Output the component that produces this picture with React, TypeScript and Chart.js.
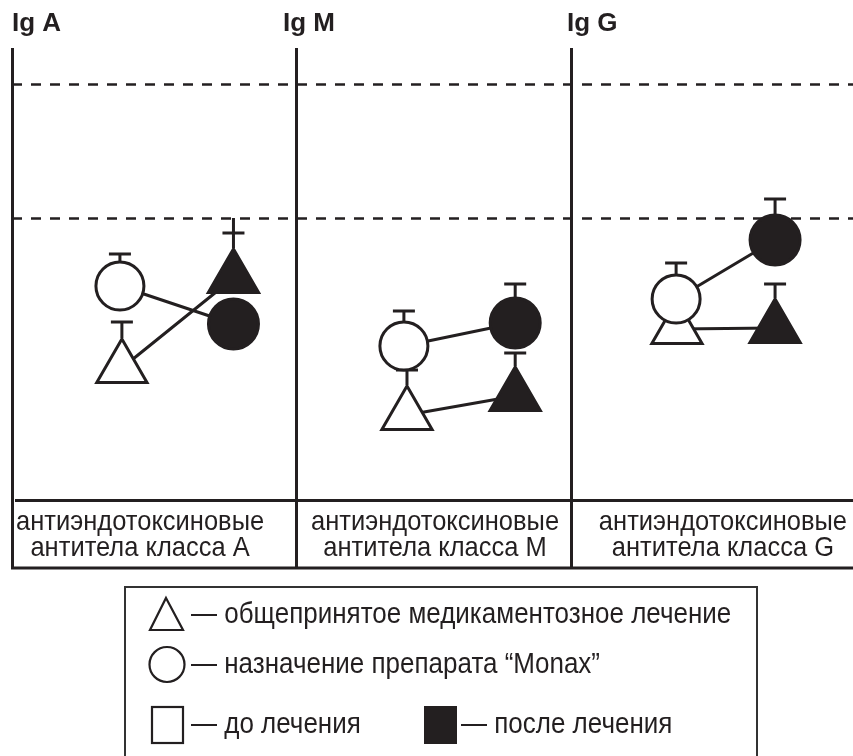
import React, { useEffect, useRef } from "react";
import { Chart, registerables } from "chart.js";

Chart.register(...registerables);

// ---------- data ----------
const panelTitles = ["Ig A", "Ig M", "Ig G"];
const panelStarts = [0, 1.013, 1.994];
const titleShift = [0, -13, -4];
const labelCentersX = [0.457, 1.509, 2.536];
const panelLabels = [
  ["антиэндотоксиновые", "антитела класса A"],
  ["антиэндотоксиновые", "антитела класса M"],
  ["антиэндотоксиновые", "антитела класса G"],
];
const referenceLevels = [104, 70.5];

const xBeforeCircle = [0.385, 1.398, 2.369];
const xBeforeTriangle = [0.392, 1.409, 2.372];
const xAfter = [0.79, 1.795, 2.722];

const circleBefore = [53.5, 38.5, 50.25];
const circleBeforeErr = [61.5, 47.25, 59.25];
const triangleBefore = [33, 21.25, 42.75];
const triangleBeforeErr = [44.5, 32.5, null];
const circleAfter = [44, 44.25, 65];
const circleAfterErr = [null, 54, 75.25];
const triangleAfter = [55.5, 26, 43];
const triangleAfterErr = [66.75, 36.75, 54];
const triangleAfterStem = [70.5, null, null];

const legendTexts = [
  "— общепринятое медикаментозное лечение",
  "— назначение препарата “Monax”",
  "— до лечения",
  "— после лечения",
];

const INK = "#231f20";
const FONT = "'Liberation Sans', Arial, Helvetica, sans-serif";

function pts(xs: number[], ys: (number | null)[]) {
  return xs.map((x, i) => ({ x, y: ys[i] }));
}
function links(x0: number[], y0: number[], x1: number[], y1: number[]) {
  const out: any[] = [];
  x0.forEach((x, i) => {
    out.push({ x, y: y0[i] });
    out.push({ x: x1[i], y: y1[i] });
    out.push({ x: x1[i], y: null });
  });
  return out;
}

function stretchedText(ctx: CanvasRenderingContext2D, text: string, x: number, y: number, sy: number) {
  ctx.save();
  ctx.translate(x, y);
  ctx.scale(1, sy);
  ctx.fillText(text, 0, 0);
  ctx.restore();
}

const decorPlugin = {
  id: "decor",
  beforeDatasetsDraw(chart: any) {
    const { ctx, chartArea, scales } = chart;
    const xs = scales.x;
    const ys = scales.y;
    const tableBottom = chartArea.bottom + 68;
    ctx.save();
    ctx.strokeStyle = INK;
    // dashed reference levels
    ctx.lineWidth = 2.5;
    ctx.setLineDash([10, 9]);
    referenceLevels.forEach((v) => {
      const py = Math.round(ys.getPixelForValue(v)) + 0.5;
      ctx.beginPath();
      ctx.moveTo(chartArea.left, py);
      ctx.lineTo(chartArea.right, py);
      ctx.stroke();
    });
    ctx.setLineDash([]);
    // panel verticals
    ctx.lineWidth = 3;
    panelStarts.forEach((v) => {
      const px = Math.round(xs.getPixelForValue(v)) + 0.5;
      ctx.beginPath();
      ctx.moveTo(px, chartArea.top);
      ctx.lineTo(px, tableBottom);
      ctx.stroke();
    });
    // table lines
    ctx.beginPath();
    ctx.moveTo(chartArea.left + 3, chartArea.bottom + 0.5);
    ctx.lineTo(chartArea.right, chartArea.bottom + 0.5);
    ctx.moveTo(chartArea.left - 1, tableBottom);
    ctx.lineTo(chartArea.right, tableBottom);
    ctx.stroke();

    // titles
    ctx.fillStyle = INK;
    ctx.font = `bold 26px ${FONT}`;
    ctx.textAlign = "left";
    ctx.textBaseline = "alphabetic";
    panelTitles.forEach((t, i) => {
      ctx.fillText(t, xs.getPixelForValue(panelStarts[i]) + titleShift[i], 31);
    });
    // table labels
    ctx.font = `25.5px ${FONT}`;
    ctx.textAlign = "center";
    ctx.textBaseline = "middle";
    panelLabels.forEach((lines, i) => {
      const cx = xs.getPixelForValue(labelCentersX[i]);
      lines.forEach((l, j) => stretchedText(ctx, l, cx, chartArea.bottom + 22 + j * 26, 1.1));
    });
    ctx.restore();
  },
  afterDatasetDraw(chart: any, args: any) {
    const ds: any = chart.data.datasets[args.index];
    if (!ds.errTop) return;
    const { ctx } = chart;
    const ys = chart.scales.y;
    const meta = args.meta;
    ctx.save();
    ctx.strokeStyle = INK;
    ctx.lineWidth = 3;
    meta.data.forEach((el: any, i: number) => {
      const top = ds.errTop[i];
      if (top == null) return;
      const r = ds.pointRadius;
      const startY = el.y - r - 1;
      const capY = ys.getPixelForValue(top);
      const stemY = ds.stemTop && ds.stemTop[i] != null ? ys.getPixelForValue(ds.stemTop[i]) : capY;
      ctx.beginPath();
      ctx.moveTo(el.x, startY);
      ctx.lineTo(el.x, stemY);
      ctx.moveTo(el.x - 11, capY);
      ctx.lineTo(el.x + 11, capY);
      ctx.stroke();
    });
    ctx.restore();
  },
  afterDraw(chart: any) {
    const { ctx } = chart;
    ctx.save();
    ctx.strokeStyle = "#333";
    ctx.lineWidth = 2;
    ctx.strokeRect(125, 587, 632, 200);
    ctx.strokeStyle = INK;
    ctx.lineWidth = 2.2;
    // triangle
    ctx.beginPath();
    ctx.moveTo(166, 598);
    ctx.lineTo(183, 630);
    ctx.lineTo(150, 630);
    ctx.closePath();
    ctx.stroke();
    // circle
    ctx.beginPath();
    ctx.arc(167, 664.5, 17.5, 0, Math.PI * 2);
    ctx.stroke();
    // open square
    ctx.strokeRect(152, 707, 31, 36);
    // filled square
    ctx.fillStyle = INK;
    ctx.fillRect(424, 706, 33, 38);
    ctx.font = `26px ${FONT}`;
    ctx.textAlign = "left";
    ctx.textBaseline = "middle";
    stretchedText(ctx, legendTexts[0], 191, 615, 1.1);
    stretchedText(ctx, legendTexts[1], 191, 665, 1.1);
    stretchedText(ctx, legendTexts[2], 191, 725, 1.1);
    stretchedText(ctx, legendTexts[3], 461, 725, 1.1);
    ctx.restore();
  },
};

export default function App() {
  const ref = useRef<HTMLCanvasElement | null>(null);
  useEffect(() => {
    if (!ref.current) return;
    const common = { showLine: false, borderWidth: 3, borderColor: INK };
    const chart = new Chart(ref.current, {
      type: "scatter",
      data: {
        datasets: [
          {
            label: "circle link",
            type: "line",
            data: links(xBeforeCircle, circleBefore, xAfter, circleAfter),
            borderColor: INK,
            borderWidth: 3,
            pointRadius: 0,
            showLine: true,
            spanGaps: false,
            order: 5,
          },
          {
            label: "triangle link",
            type: "line",
            data: links(xBeforeTriangle, triangleBefore, xAfter, triangleAfter),
            borderColor: INK,
            borderWidth: 3,
            pointRadius: 0,
            showLine: true,
            spanGaps: false,
            order: 4,
          },
          {
            label: "triangle before",
            data: pts(xBeforeTriangle, triangleBefore),
            pointStyle: "triangle",
            pointRadius: 29,
            backgroundColor: "#ffffff",
            errTop: triangleBeforeErr,
            order: 3,
            ...common,
          } as any,
          {
            label: "triangle after",
            data: pts(xAfter, triangleAfter),
            pointStyle: "triangle",
            pointRadius: 29,
            backgroundColor: INK,
            errTop: triangleAfterErr,
            stemTop: triangleAfterStem,
            order: 3,
            ...common,
          } as any,
          {
            label: "circle before",
            data: pts(xBeforeCircle, circleBefore),
            pointStyle: "circle",
            pointRadius: 24,
            backgroundColor: "#ffffff",
            errTop: circleBeforeErr,
            order: 1,
            ...common,
          } as any,
          {
            label: "circle after",
            data: pts(xAfter, circleAfter),
            pointStyle: "circle",
            pointRadius: 25,
            backgroundColor: INK,
            errTop: circleAfterErr,
            order: 1,
            ...common,
          } as any,
        ],
      },
      options: {
        responsive: false,
        animation: false,
        devicePixelRatio: 1,
        layout: { autoPadding: false, padding: { top: 48, bottom: 256, left: 12, right: 0 } },
        plugins: { legend: { display: false }, tooltip: { enabled: false }, title: { display: false } },
        events: [],
        scales: {
          x: { type: "linear", min: 0, max: 3, display: false },
          y: { type: "linear", min: 0, max: 113, display: false },
        },
        elements: { point: { hoverRadius: 0 } },
      },
      plugins: [decorPlugin],
    });
    return () => chart.destroy();
  }, []);
  return (
    <div style={{ position: "absolute", left: 0, top: 0, width: 853, height: 756, background: "#fff" }}>
      <canvas ref={ref} width={853} height={756} style={{ display: "block" }} />
    </div>
  );
}
